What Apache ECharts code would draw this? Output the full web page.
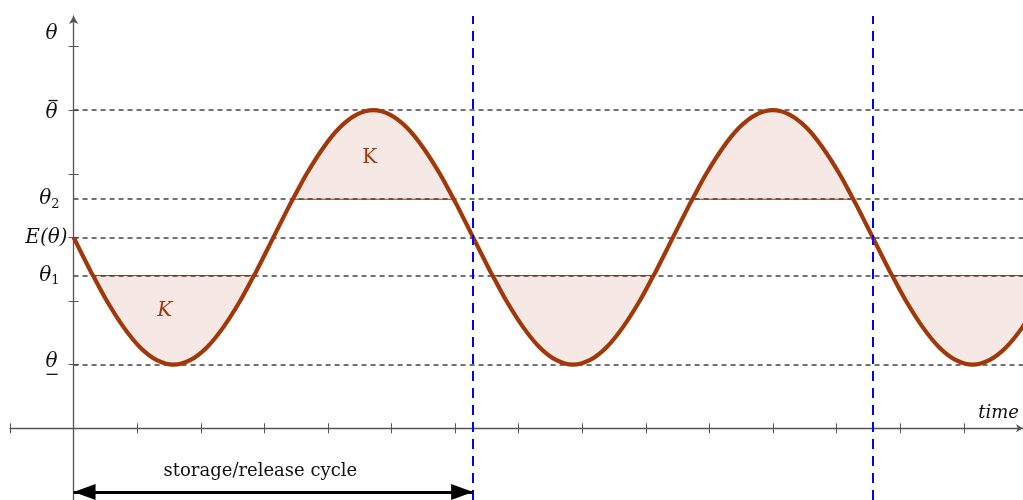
<!DOCTYPE html>
<html>
<head>
<meta charset="utf-8">
<script src="https://cdn.jsdelivr.net/npm/echarts@6/dist/echarts.min.js"></script>
<style>
  html, body { margin: 0; padding: 0; background: #ffffff; }
  #chart { width: 1023px; height: 500px; }
</style>
</head>
<body>
<div id="chart"></div>
<script>
// Phase of the storage/release cycle, in degrees (360 = one full cycle)
const time = [
  0, 15, 17.5, 30, 45, 60, 75, 90, 105, 120, 135, 150, 162.5, 165,
  180, 195, 197.5, 210, 225, 240, 255, 270, 285, 300, 315, 330, 342.5, 345,
  360, 375, 377.5, 390, 405, 420, 435, 450, 465, 480, 495, 510, 522.5, 525,
  540, 555, 557.5, 570, 585, 600, 615, 630, 645, 660, 675, 690, 702.5, 705,
  720, 735, 737.5, 750, 765, 780, 795, 810, 825, 840, 855, 870
];
// Stored level theta at each phase
const level = [
  3, 2.48, 2.4, 2, 1.59, 1.27, 1.07, 1, 1.07, 1.27, 1.59, 2, 2.4, 2.48,
  3, 3.52, 3.6, 4, 4.41, 4.73, 4.93, 5, 4.93, 4.73, 4.41, 4, 3.6, 3.52,
  3, 2.48, 2.4, 2, 1.59, 1.27, 1.07, 1, 1.07, 1.27, 1.59, 2, 2.4, 2.48,
  3, 3.52, 3.6, 4, 4.41, 4.73, 4.93, 5, 4.93, 4.73, 4.41, 4, 3.6, 3.52,
  3, 2.48, 2.4, 2, 1.59, 1.27, 1.07, 1, 1.07, 1.27, 1.59, 2
];
// Reference levels: theta-bar, theta2, E(theta), theta1, theta-underbar
const guideLevels = [5, 3.6, 3, 2.4, 1];
const theta1 = 2.4;
const theta2 = 3.6;
// Cycle boundaries (phase, degrees)
const cycleBounds = [360, 720];
// Tick marks on the level axis
const levelTicks = [1, 2, 3, 4, 5, 6];
// Level axis labels
const labelLevels = [6.2, 5, 3.6, 3, 2.4, 1];
const labelTexts = [
  '{a|θ}',
  '{bar| }{gap| }\n{a|θ}',
  '{t|θ}{s|2}',
  '{e|E(θ)}',
  '{t|θ}{s|1}',
  '{a|θ}\n{under| }{gap| }'
];

const RAD = 180 / Math.PI;           // one x tick per radian of phase
const X_MIN = -RAD, X_MAX = 855.4;
const Y_MIN = -1.127, Y_MAX = 6.48;
const GRID_LEFT = 10, GRID_WIDTH = 1013;
// the level axis stands at phase 0, inside the plotting area
const Y_AXIS_SHIFT = -GRID_WIDTH * (0 - X_MIN) / (X_MAX - X_MIN);
const SERIF = 'DejaVu Serif';
const CURVE = '#a0380a';
const FILL = '#f6e8e4';

// Keep only the stretches of the curve beyond a level (gaps elsewhere)
function band(test) {
  return time.map((t, i) => [t, test(level[i]) ? level[i] : '-']);
}
const lowFill = band(v => v <= theta1);
const highFill = band(v => v >= theta2);

// Straight chord closing each filled stretch along its level
function chord(points, y) {
  const out = [];
  let start = null, last = null;
  points.forEach(p => {
    if (p[1] !== '-') {
      if (start === null) start = p[0];
      last = p[0];
    } else if (start !== null) {
      out.push([start, y], [last, y], [last, '-']);
      start = null;
    }
  });
  if (start !== null) out.push([start, y], [last, y]);
  return out;
}

const axisColor = '#555555';
const textColor = '#111111';

const chart = echarts.init(document.getElementById('chart'), null, { renderer: 'canvas' });

chart.setOption({
  animation: false,
  backgroundColor: '#ffffff',
  grid: { left: GRID_LEFT, width: GRID_WIDTH, top: 16, bottom: 0, containLabel: false, outerBoundsMode: 'none' },
  xAxis: [
    {
      type: 'value', min: X_MIN, max: X_MAX, interval: RAD,
      name: 'time', nameLocation: 'end', nameGap: -4,
      nameTextStyle: {
        fontFamily: SERIF, fontStyle: 'italic', fontSize: 18, color: textColor,
        align: 'right', verticalAlign: 'bottom', padding: [0, 0, 6, 0]
      },
      axisLine: {
        onZero: true, onZeroAxisIndex: 0,
        symbol: ['none', 'arrow'], symbolSize: [6, 7],
        lineStyle: { color: axisColor, width: 1.3 }
      },
      axisTick: { show: true, inside: false, length: 5, lineStyle: { color: axisColor, width: 1 } },
      axisLabel: { show: false },
      splitLine: { show: false }
    },
    {
      type: 'value', min: X_MIN, max: X_MAX, interval: RAD, position: 'bottom',
      axisLine: { show: true, onZero: true, onZeroAxisIndex: 0, lineStyle: { opacity: 0 } },
      axisTick: { show: true, inside: true, length: 5, lineStyle: { color: axisColor, width: 1 } },
      axisLabel: { show: false },
      splitLine: { show: false }
    }
  ],
  yAxis: [
    {
      type: 'value', min: Y_MIN, max: Y_MAX, position: 'left', offset: Y_AXIS_SHIFT,
      axisLine: {
        onZero: false,
        symbol: ['none', 'arrow'], symbolSize: [7, 8],
        lineStyle: { color: axisColor, width: 1.3 }
      },
      axisTick: { show: true, inside: false, length: 5, customValues: levelTicks, lineStyle: { color: axisColor, width: 1 } },
      axisLabel: {
        show: true, customValues: labelLevels, margin: 6,
        formatter: v => {
          const i = labelLevels.findIndex(l => Math.abs(l - v) < 1e-6);
          return i >= 0 ? labelTexts[i] : '';
        },
        rich: {
          a: { fontFamily: SERIF, fontStyle: 'italic', fontSize: 20, color: textColor, lineHeight: 24, padding: [0, 10, 0, 0] },
          bar: { width: 9, height: 1.3, lineHeight: 6, backgroundColor: textColor, verticalAlign: 'bottom', fontSize: 1 },
          under: { width: 11, height: 1.3, lineHeight: 6, backgroundColor: textColor, verticalAlign: 'top', fontSize: 1 },
          gap: { width: 10, height: 1.3, lineHeight: 6, fontSize: 1 },
          t: { fontFamily: SERIF, fontStyle: 'italic', fontSize: 20, color: textColor, lineHeight: 24 },
          s: { fontFamily: SERIF, fontSize: 13, color: textColor, lineHeight: 12, verticalAlign: 'bottom', padding: [0, 8, 0, 0] },
          e: { fontFamily: SERIF, fontStyle: 'italic', fontSize: 20, color: textColor, lineHeight: 24 }
        }
      },
      splitLine: { show: false }
    },
    {
      type: 'value', min: Y_MIN, max: Y_MAX, position: 'left', offset: Y_AXIS_SHIFT,
      axisLine: { show: true, onZero: false, lineStyle: { opacity: 0 } },
      axisTick: { show: true, inside: true, length: 5, customValues: levelTicks, lineStyle: { color: axisColor, width: 1 } },
      axisLabel: { show: false },
      splitLine: { show: false }
    }
  ],
  series: [
    {
      // shaded area below theta1
      type: 'line', name: 'low', data: lowFill, smooth: false, showSymbol: false, silent: true,
      lineStyle: { width: 0 }, connectNulls: false, z: 1,
      areaStyle: { color: FILL, opacity: 1, origin: theta1 }
    },
    {
      // shaded area above theta2
      type: 'line', name: 'high', data: highFill, smooth: false, showSymbol: false, silent: true,
      lineStyle: { width: 0 }, connectNulls: false, z: 1,
      areaStyle: { color: FILL, opacity: 1, origin: theta2 }
    },
    {
      // thin edges of the shaded areas along theta1 and theta2
      type: 'line', name: 'chords', data: chord(lowFill, theta1).concat([[0, '-']], chord(highFill, theta2)),
      showSymbol: false, silent: true, connectNulls: false, z: 2,
      lineStyle: { color: CURVE, width: 1 },
      markLine: {
        silent: true, symbol: 'none', z: 3,
        label: { show: false },
        lineStyle: { color: '#444444', width: 1.5, type: [5, 4] },
        data: guideLevels.map(v => [{ coord: [0, v] }, { coord: [X_MAX, v] }])
      }
    },
    {
      // stored level over time
      type: 'line', name: 'theta', data: time.map((t, i) => [t, level[i]]),
      smooth: 0.33, showSymbol: false, silent: true, z: 8,
      lineStyle: { color: CURVE, width: 4.2 },
      markPoint: {
        silent: true, symbol: 'circle', symbolSize: 1, z: 9,
        itemStyle: { color: 'rgba(0,0,0,0)' },
        label: { show: true, position: 'inside', fontFamily: SERIF, fontSize: 20, color: CURVE },
        data: [
          { coord: [82, 1.84], label: { formatter: 'K', fontStyle: 'italic' } },
          { coord: [266.7, 4.25], label: { formatter: 'K' } }
        ]
      }
    },
    {
      // cycle boundaries and the cycle-length arrow
      type: 'line', name: 'cycle', data: [], silent: true, z: 10,
      markLine: {
        silent: true, z: 12, symbol: 'none',
        label: { show: false },
        data: cycleBounds.map(x => ({ xAxis: x, lineStyle: { color: '#0000ff', width: 2, type: [10, 7] } })).concat([
          [
            { coord: [0, -1], symbol: 'triangle', symbolSize: [16, 22], symbolOffset: [0, '50%'] },
            { coord: [cycleBounds[0], -1], symbol: 'triangle', symbolSize: [16, 22], symbolOffset: [0, '50%'],
              lineStyle: { color: '#000', width: 3, type: 'solid' },
              label: {
                show: true, position: 'insideMiddleTop', formatter: 'storage/release cycle',
                fontFamily: SERIF, fontSize: 18, color: textColor, distance: 12, padding: [0, 26, 0, 0]
              }
            }
          ]
        ])
      }
    }
  ]
});
</script>
</body>
</html>
